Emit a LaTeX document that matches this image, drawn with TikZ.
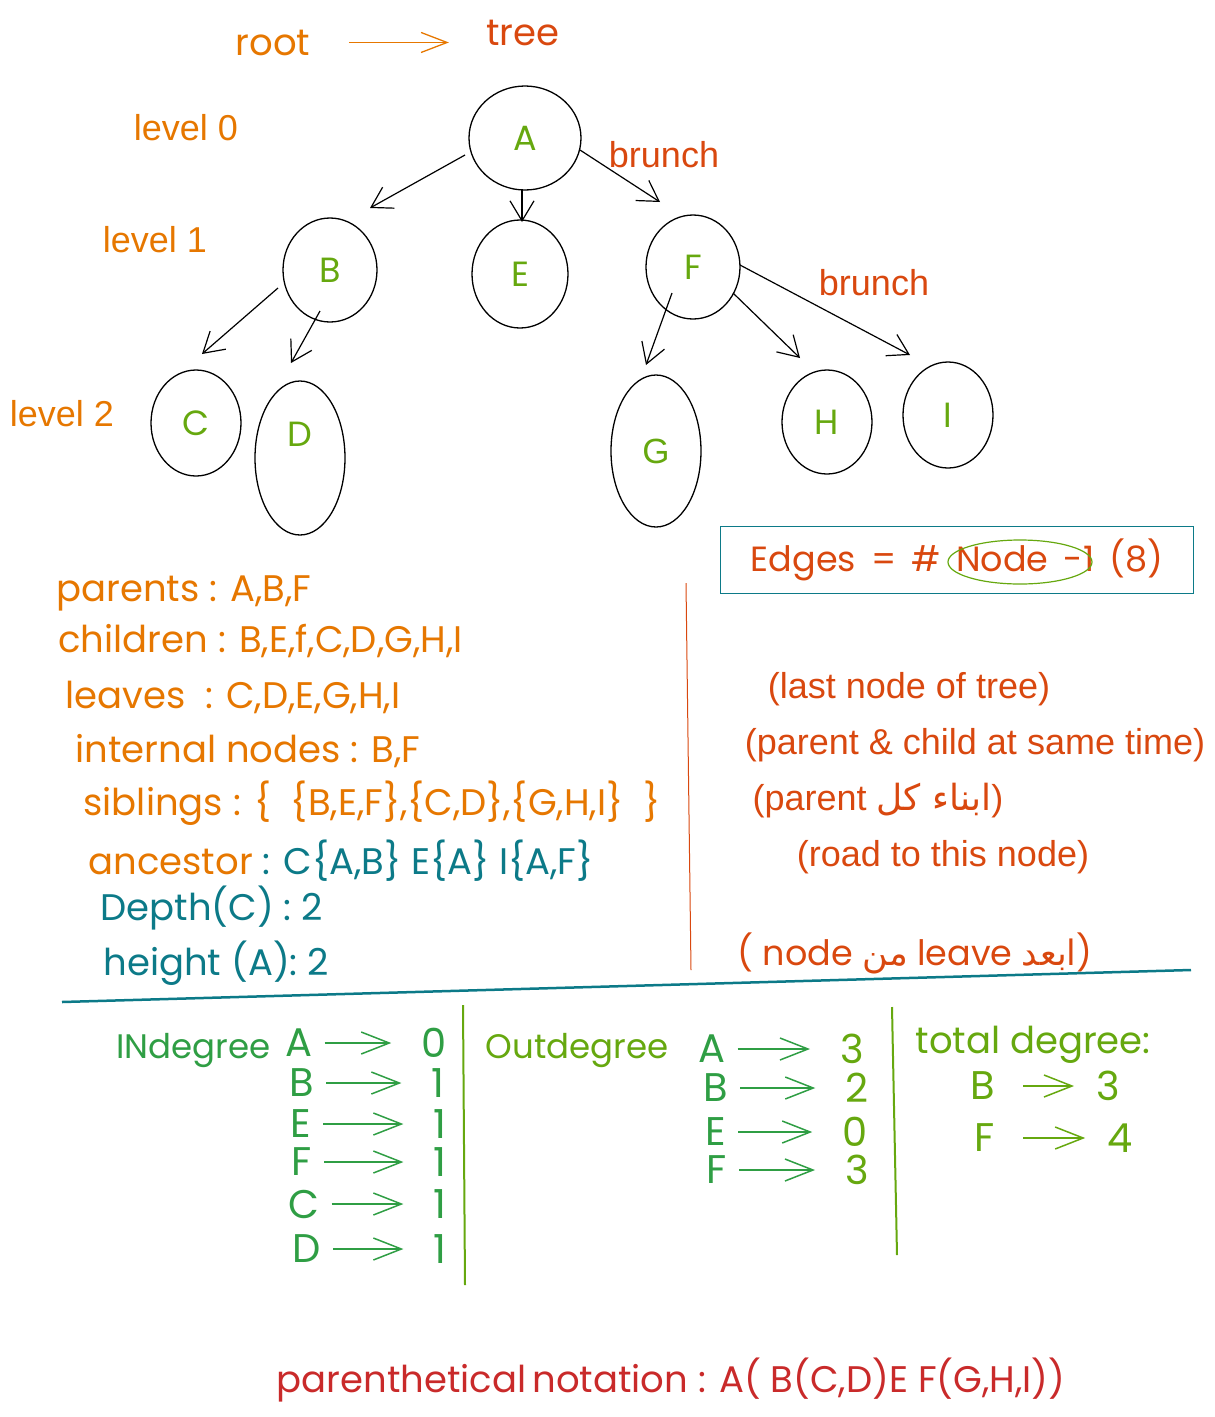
\documentclass[tikz,border=0pt]{standalone}
\usepackage{fontspec}
\setmainfont{Liberation Sans}
\newfontfamily\handfont{Poppins}
\newfontfamily\arabicfont[Script=Arabic]{DejaVu Sans}
\TeXXeTstate=1
\usetikzlibrary{arrows.meta}
\usetikzlibrary{shapes.geometric}
\usetikzlibrary{calc}
\definecolor{lvlorange}{HTML}{E67700}
\definecolor{brickred}{HTML}{D9480F}
\definecolor{leafgreen}{HTML}{66A80F}
\definecolor{deepgreen}{HTML}{2F9E44}
\definecolor{tealblue}{HTML}{0C7A88}
\definecolor{notered}{HTML}{C92A2A}
\tikzset{letter/.style={text=leafgreen,font=\handfont\fontsize{35}{36}\selectfont}}

\begin{document}
\begin{tikzpicture}[x=1pt,y=-1pt]
  % some styles
  \tikzset{
    vertex/.style={
      ellipse,
      draw=black,
      line width=1.3pt,
      inner sep=0pt,
      letter
    },
    branch/.style={-{Straight Barb[length=20pt,width=24pt]},line width=1.2pt},
    lvl/.style={anchor=base,text=lvlorange,font=\fontsize{36}{40}\selectfont},
    note/.style={text=brickred,font=\fontsize{36}{40}\selectfont},
    hand/.style={anchor=base west,font=\handfont\fontsize{37}{40}\selectfont},
    head/.style={anchor=base west,font=\handfont\fontsize{34}{40}\selectfont},
    deg/.style={inner sep=0pt,font=\handfont\fontsize{40}{44}\selectfont},
    degarrow/.style={-{Straight Barb[length=28pt,width=22pt]},line width=1.5pt,shorten <=12pt,shorten >=30pt}
  }
  \useasboundingbox (0,0) rectangle (1215,1417);

  % the tree
  \node[vertex,minimum width=112,minimum height=104] (A) at (525,138) {A};
  \node[vertex,minimum width=94,minimum height=104] (B) at (330,270) {B};
  \node[vertex,minimum width=96,minimum height=108] (E) at (520,274) {E};
  \node[vertex,minimum width=94,minimum height=104] (F) at (693,267) {F};
  \node[vertex,minimum width=90,minimum height=106] (C) at (196,423) {C};
  \node[vertex,minimum width=90,minimum height=154] (D) at (300,458) {};
  \node[letter] (Dtag) at ([yshift=24pt]D.center) {D};
  \node[vertex,minimum width=90,minimum height=152] (G) at (656,451) {\rmfamily G};
  \node[vertex,minimum width=90,minimum height=104] (H) at (827,422) {H};
  \node[vertex,minimum width=90,minimum height=106] (I) at (948,415) {I};

  \draw[branch] ([shift={(-60,17)}]A.center) -- ([shift={(40,-62)}]B.center);
  \draw[branch] ([shift={(-3,52)}]A.center) -- ([shift={(2,-52)}]E.center);
  \draw[branch] ([shift={(55,12)}]A.center) -- ([shift={(-33,-65)}]F.center);
  \draw[branch] ([shift={(-52,18)}]B.center) -- ([shift={(6,-69)}]C.center);
  \draw[branch] ([shift={(-10,41)}]B.center) -- ([shift={(-9,-95)}]D.center);
  \draw[branch] ([shift={(-21,26)}]F.center) -- ([shift={(-10,-86)}]G.center);
  \draw[branch] ([shift={(40,26)}]F.center) -- ([shift={(-27,-64)}]H.center);
  \draw[branch] ([shift={(47,-2)}]F.center) -- ([shift={(-38,-60)}]I.center);

  \node[hand,anchor=base,text=lvlorange] (root) at (273,55) {root};
  \node[hand,anchor=base,text=brickred] (tree) at (523,45) {tree};
  \draw[-{Straight Barb[length=26pt,width=20pt]},lvlorange,line width=1.3pt,shorten <=35pt,shorten >=34pt] (root.east) -- (root.east -| tree.west);

  \node[lvl] (lvl0) at (186,140) {level 0};
  \node[lvl] (lvl1) at (155,252) {level 1};
  \node[lvl] (lvl2) at (62,426) {level 2};
  \node[note,anchor=base] (brunchA) at (664,167) {brunch};
  \node[note,anchor=base] (brunchF) at (874,295) {brunch};

  % edges box
  \node[draw=tealblue,line width=1.5pt,minimum width=473,minimum height=67,text=brickred,font=\handfont\fontsize{35}{40}\selectfont] (edges) at (957,560) {Edges\, =\, \#\, Node\, -1\, (8)};
  \node[ellipse,draw=leafgreen,line width=1.2pt,minimum width=144,minimum height=44] (ring) at (1020,562) {};

  % terms
  \node[hand,text=lvlorange] (parents) at (53,601) {parents : A,B,F};
  \node[hand,text=lvlorange] (children) at (55,652) {children : B,E,f,C,D,G,H,I};
  \node[hand,text=lvlorange] (leaves) at (62,708) {leaves \ : C,D,E,G,H,I};
  \node[hand,text=lvlorange] (internal) at (72,762) {internal nodes : B,F};
  \node[hand,text=lvlorange] (siblings) at (80,815) {siblings : \{ \ \{B,E,F\},\{C,D\},\{G,H,I\} \ \}};
  \node[hand,text=lvlorange] (ancestor) at (85,874) {ancestor \textcolor{tealblue}{: C\{A,B\} E\{A\} I\{A,F\}}};
  \node[hand,text=tealblue] (depth) at (97,920) {Depth(C) : 2};
  \node[hand,text=tealblue] (height) at (100,975) {height (A): 2};

  \draw[brickred,line width=1pt] (686,583) -- (691,970);

  \node[note] (leafnote) at (909,689) {(last node of tree)};
  \node[note] (internote) at (975,745) {(parent \& child at same time)};
  \node[note] (sibnote) at (878,801) {(parent {\arabicfont\beginR ابناء كل\endR})};
  \node[note] (ancnote) at (943,857) {(road to this node)};
  \node[hand,anchor=base,text=brickred,font=\handfont\fontsize{35}{40}\selectfont] (heightnote) at (915,965) {( node {\arabicfont\beginR من\endR} leave {\arabicfont\beginR ابعد\endR})};

  \draw[tealblue,line width=2.5pt] (62,1002) -- (1191,970);

  % degrees
  \node[head,text=deepgreen] (indeg) at (113,1058) {INdegree};
  \foreach \v/\x/\y/\n/\nx in {A/299/1043/0/434,B/302/1083/1/438,E/301/1124/1/440,F/302/1162/1/440,C/304/1204/1/440,D/307/1249/1/440} {
    \node[deg,text=deepgreen] (in\v) at (\x,\y) {\v};
    \node[deg,text=deepgreen] (inval\v) at (\nx,\y) {\n};
    \draw[degarrow,deepgreen] (in\v) -- (inval\v);
  }
  \draw[leafgreen,line width=2pt] (463,1005) -- (465,1285);

  \node[head,text=leafgreen] (outdeg) at (482,1058) {Outdegree};
  \foreach \v/\x/\y/\n/\nx in {A/712/1049/3/852,B/716/1088/2/857,E/716/1132/0/855,F/717/1170/3/857} {
    \node[deg,text=deepgreen] (out\v) at (\x,\y) {\v};
    \node[deg,text=leafgreen] (outval\v) at (\nx,\y) {\n};
    \draw[degarrow,deepgreen] (out\v) -- (outval\v);
  }
  \draw[leafgreen,line width=2pt] (892,1007) -- (897,1255);

  \node[hand,text=leafgreen] (totdeg) at (912,1053) {total degree:};
  \foreach \v/\x/\y/\n/\nx in {B/983/1086/3/1108,F/985/1138/4/1120} {
    \node[deg,text=leafgreen] (tot\v) at (\x,\y) {\v};
    \node[deg,text=leafgreen] (totval\v) at (\nx,\y) {\n};
    \draw[degarrow,leafgreen,shorten <=28pt,shorten >=22pt] (tot\v) -- (totval\v);
  }

  \node[hand,anchor=base,text=notered] (paren) at (671,1392) {parenthetical\,notation : A( B(C,D)E F(G,H,I))};
\end{tikzpicture}
\end{document}
